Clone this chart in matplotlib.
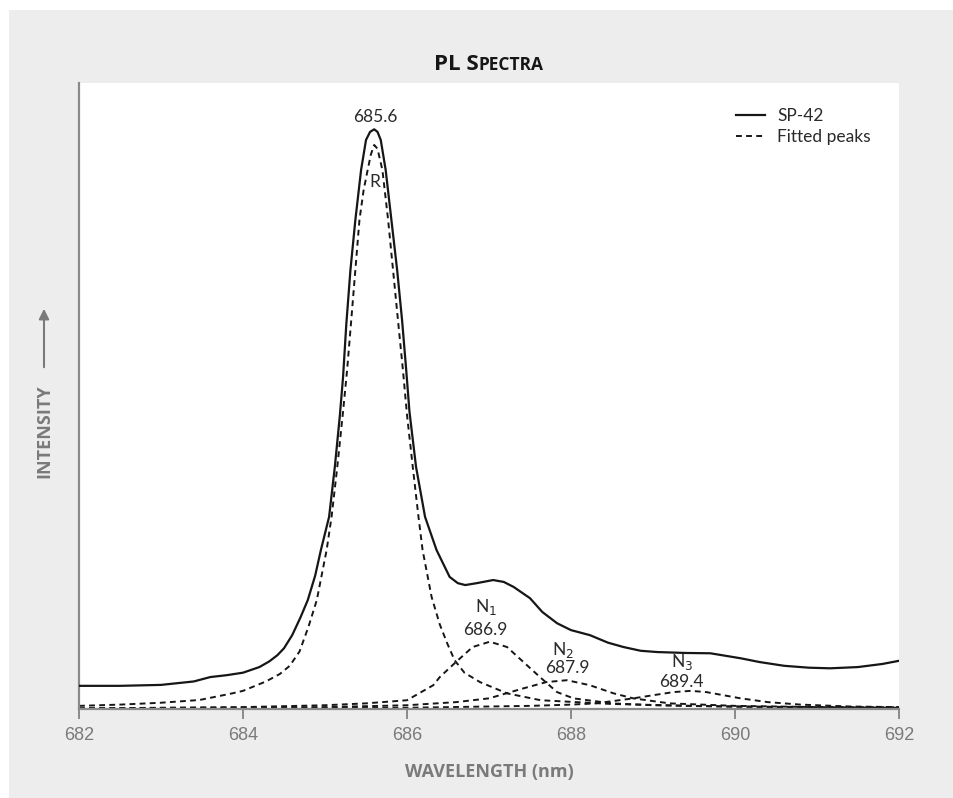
import matplotlib
matplotlib.use("Agg")
import matplotlib.pyplot as plt
from matplotlib.patches import Rectangle, FancyArrowPatch

# measured spectrum (wavelength nm, intensity in arbitrary units)
sp42_wl = [682.0, 682.5, 683.0, 683.4, 683.6, 683.8, 684.0, 684.2, 684.32, 684.42,
           684.5, 684.6, 684.7, 684.79, 684.88, 684.95, 685.05, 685.12, 685.18, 685.22,
           685.26, 685.31, 685.37, 685.44, 685.5, 685.55, 685.6, 685.64, 685.68, 685.74,
           685.81, 685.88, 685.94, 685.99, 686.03, 686.11, 686.22, 686.36, 686.52, 686.62,
           686.71, 686.85, 687.05, 687.18, 687.3, 687.5, 687.65, 687.83, 688.0, 688.23,
           688.45, 688.64, 688.85, 689.05, 689.4, 689.7, 690.07, 690.3, 690.6, 690.9,
           691.16, 691.5, 691.8, 692.0]
sp42_int = [3.7, 3.7, 3.85, 4.4, 5.1, 5.4, 5.8, 6.7, 7.6, 8.6,
            9.7, 11.8, 14.6, 17.4, 21.3, 25.4, 30.7, 38.7, 46.7, 53.0,
            61.5, 70.1, 78.1, 86.1, 90.9, 92.2, 92.6, 92.2, 90.9, 86.1,
            78.1, 70.1, 62.1, 54.2, 47.5, 38.7, 30.7, 25.4, 21.1, 20.1,
            19.8, 20.1, 20.6, 20.3, 19.5, 17.7, 15.5, 13.7, 12.6, 11.8,
            10.6, 9.9, 9.3, 9.1, 8.95, 8.9, 8.1, 7.5, 6.9, 6.6,
            6.5, 6.7, 7.2, 7.7]

# fitted peaks
r_wl = [682.0, 682.5, 683.0, 683.47, 683.87, 684.0, 684.28, 684.45, 684.57, 684.69,
        684.8, 684.9, 685.02, 685.08, 685.15, 685.22, 685.27, 685.32, 685.37, 685.42,
        685.47, 685.52, 685.56, 685.6, 685.64, 685.7, 685.77, 685.83, 685.89, 685.95,
        686.0, 686.07, 686.14, 686.19, 686.3, 686.4, 686.49, 686.58, 686.7, 686.89,
        687.22, 687.63, 688.5, 689.5, 690.5, 692.0]
r_int = [0.5, 0.7, 1.0, 1.44, 2.5, 2.9, 4.4, 5.6, 6.9, 9.2,
         13.2, 17.4, 25.4, 30.7, 38.7, 47.5, 54.2, 62.1, 70.1, 78.1,
         82.8, 86.1, 88.6, 90.1, 89.5, 86.1, 78.1, 70.1, 62.1, 54.2,
         47.0, 38.7, 30.7, 25.4, 17.9, 13.5, 10.5, 7.8, 5.8, 4.3,
         2.5, 1.4, 0.8, 0.5, 0.35, 0.25]

n1_wl = [682.0, 684.0, 685.0, 685.5, 686.0, 686.32, 686.4, 686.58, 686.8, 687.01,
         687.22, 687.42, 687.63, 687.83, 688.03, 688.5, 689.0, 690.0, 692.0]
n1_int = [0.1, 0.3, 0.6, 0.9, 1.4, 3.8, 5.1, 7.3, 9.9, 10.75,
          9.9, 7.5, 5.0, 2.7, 1.7, 0.9, 0.6, 0.35, 0.2]

n2_wl = [682.0, 685.0, 686.0, 686.6, 687.0, 687.42, 687.7, 687.95, 688.23, 688.52,
         688.76, 689.2, 690.0, 691.0, 692.0]
n2_int = [0.1, 0.3, 0.6, 1.1, 1.7, 3.3, 4.3, 4.6, 3.8, 2.5,
          1.7, 0.9, 0.5, 0.3, 0.2]

n3_wl = [682.0, 686.0, 687.5, 688.0, 688.3, 688.76, 689.0, 689.25, 689.46, 689.65,
         689.86, 690.07, 690.4, 690.8, 691.4, 692.0]
n3_int = [0.05, 0.2, 0.5, 0.7, 0.9, 1.7, 2.2, 2.7, 2.9, 2.7,
          2.2, 1.7, 1.1, 0.7, 0.4, 0.3]

# peak labels: (text, wavelength, intensity)
peak_labels = [("685.6", 685.61, 94.6), ("R", 685.61, 84.2),
               ("N$_1$", 686.96, 16.3), ("686.9", 686.96, 12.6),
               ("N$_2$", 687.9, 9.4), ("687.9", 687.95, 6.5),
               ("N$_3$", 689.35, 7.5), ("689.4", 689.35, 4.3)]

xticks = [682, 684, 686, 688, 690, 692]

GRAY = "#7a7a7a"
INK = "#161616"
plt.rcParams["font.family"] = ["Lato", "DejaVu Sans"]

fig = plt.figure(figsize=(9.54, 7.98), dpi=100, facecolor="white")
fig.patches.append(Rectangle((9 / 954, 0), 1, 788 / 798, transform=fig.transFigure,
                             facecolor="#ededed", edgecolor="none", zorder=-10))

ax = fig.add_axes([79 / 954, 89 / 798, 820 / 954, 626 / 798])
ax.set_facecolor("white")

dash = (0, (3, 2.2))
ax.plot(sp42_wl, sp42_int, color=INK, lw=1.6, label="SP-42", zorder=3)
ax.plot(r_wl, r_int, color=INK, lw=1.4, ls=dash, label="Fitted peaks")
for wl, inten in [(n1_wl, n1_int), (n2_wl, n2_int), (n3_wl, n3_int)]:
    ax.plot(wl, inten, color=INK, lw=1.4, ls=dash)

for txt, x, y in peak_labels:
    ax.text(x, y, txt, ha="center", va="center", fontsize=12.5, color="#2a2a2a")

ax.set_xlim(682, 692)
ax.set_ylim(0, 100)
ax.set_xticks(xticks)
ax.set_xticklabels([str(t) for t in xticks], family="Liberation Sans",
                   fontsize=13, color=GRAY)
ax.set_yticks([])
ax.tick_params(axis="x", direction="out", length=7, width=1.2, color=GRAY, pad=6)
for s in ["top", "right"]:
    ax.spines[s].set_visible(False)
for s in ["left", "bottom"]:
    ax.spines[s].set_color("#8a8a8a")
    ax.spines[s].set_linewidth(1.6)

leg = ax.legend(loc="upper right", bbox_to_anchor=(0.985, 0.985), frameon=False,
                fontsize=12.5, handlelength=1.7, handletextpad=0.7, labelspacing=0.3)
for t in leg.get_texts():
    t.set_color("#2a2a2a")

ax.set_xlabel("WAVELENGTH (nm)", fontsize=13, fontweight="bold", color=GRAY,
              labelpad=14, family="Open Sans")

# y label with arrow
fig.text(44 / 954, 1 - 431 / 798, "INTENSITY", rotation=90, ha="center", va="center",
         fontsize=13, fontweight="bold", color=GRAY, family="Open Sans")
fig.patches.append(FancyArrowPatch(
    (44 / 954, 1 - 370 / 798), (44 / 954, 1 - 306 / 798), transform=fig.transFigure,
    arrowstyle="-|>,head_length=6,head_width=3", color=GRAY, lw=1.5))

# title in small caps style
fig.canvas.draw()
r = fig.canvas.get_renderer()
t1 = fig.text(0, 1 - 70 / 798, "PL S", fontsize=16, fontweight="bold", color=INK,
              family="Open Sans")
t2 = fig.text(0, 1 - 70 / 798, "PECTRA", fontsize=12.5, fontweight="bold", color=INK,
              family="Open Sans")
w1 = t1.get_window_extent(r).width
w2 = t2.get_window_extent(r).width
x0 = 489 - (w1 + w2) / 2
t1.set_x(x0 / 954)
t2.set_x((x0 + w1) / 954)

fig.savefig("out.png", dpi=100, facecolor="white")
